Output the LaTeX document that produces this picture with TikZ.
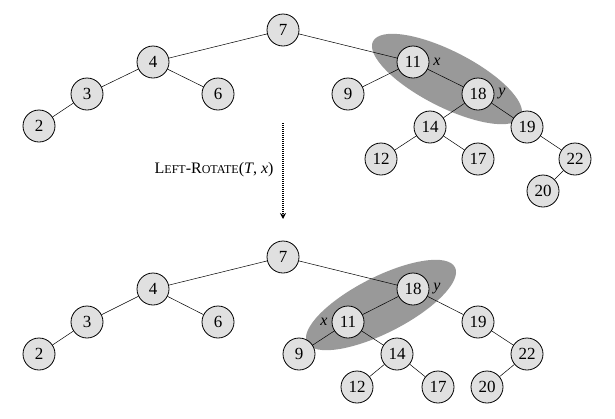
\documentclass[tikz,border=0pt]{standalone}
\usepackage{fontspec}
\setmainfont{Liberation Serif}
\usetikzlibrary{arrows.meta}
\begin{document}
\begin{tikzpicture}[x=1pt,y=-1pt,
  key/.style={circle,draw=black,line width=0.8pt,fill=black!12,minimum size=32pt,inner sep=0pt,font=\fontsize{17}{19}\selectfont},
  edge/.style={draw=black,line width=0.5pt},
  hilite/.style={fill=black!40,draw=none},
  tag/.style={font=\fontsize{16}{18}\selectfont\itshape}]
\useasboundingbox (0,0) rectangle (615,418);

% shaded pairs (drawn first so they sit behind the tree)
\fill[hilite] (447,79) ellipse [x radius=83, y radius=28, rotate=-27];
\fill[hilite] (381,305) ellipse [x radius=83, y radius=28, rotate=27];

% tree before the rotation
\node[key] (a7)  at (283,30)  {7};
\node[key] (a4)  at (153,62)  {4};
\node[key] (a3)  at (87,94)   {3};
\node[key] (a6)  at (218,94)  {6};
\node[key] (a2)  at (39,126)  {2};
\node[key] (a11) at (413,62)  {11};
\node[key] (a9)  at (348,94)  {9};
\node[key] (a18) at (478,94)  {18};
\node[key] (a14) at (430,127) {14};
\node[key] (a19) at (527,127) {19};
\node[key] (a12) at (381,159) {12};
\node[key] (a17) at (478,159) {17};
\node[key] (a22) at (575,159) {22};
\node[key] (a20) at (543,191) {20};
\node[tag] (ax) at (437,62) {x};
\node[tag] (ay) at (502,94) {y};

\foreach \p/\c in {a7/a4,a4/a3,a4/a6,a3/a2,a7/a11,a11/a9,a11/a18,a18/a14,a18/a19,a14/a12,a14/a17,a19/a22,a22/a20}
  \path[edge] (\p) -- (\c);

% the operation
\coordinate (arrtop) at (283,123);
\coordinate (arrbot) at (283,219);
\draw[line width=1.3pt,dash pattern=on 1pt off 1pt,-{Stealth[length=6pt,width=6pt]}] (arrtop) -- (arrbot);
\node[anchor=east,font=\fontsize{16}{18}\selectfont] (op) at (277,170)
  {L{\fontsize{12}{14}\selectfont EFT}-R{\fontsize{12}{14}\selectfont OTATE}(\textit{T}, \textit{x})};

% tree after the rotation
\node[key] (b7)  at (283,257) {7};
\node[key] (b4)  at (153,289) {4};
\node[key] (b3)  at (87,322)  {3};
\node[key] (b6)  at (218,322) {6};
\node[key] (b2)  at (39,354)  {2};
\node[key] (b18) at (413,289) {18};
\node[key] (b11) at (348,322) {11};
\node[key] (b19) at (478,322) {19};
\node[key] (b9)  at (299,354) {9};
\node[key] (b14) at (397,354) {14};
\node[key] (b22) at (527,354) {22};
\node[key] (b12) at (357,387) {12};
\node[key] (b17) at (438,387) {17};
\node[key] (b20) at (487,387) {20};
\node[tag] (by) at (437,289) {y};
\node[tag] (bx) at (324,322) {x};

\foreach \p/\c in {b7/b4,b4/b3,b4/b6,b3/b2,b7/b18,b18/b11,b18/b19,b11/b9,b11/b14,b14/b12,b14/b17,b19/b22,b22/b20}
  \path[edge] (\p) -- (\c);
\end{tikzpicture}
\end{document}
